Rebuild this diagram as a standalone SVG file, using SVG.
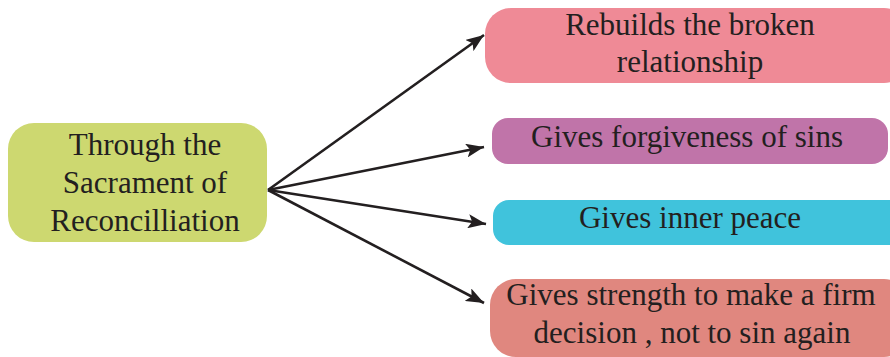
<svg xmlns="http://www.w3.org/2000/svg" width="890" height="357" viewBox="0 0 890 357">
  <style>
    .label { font-family: 'Liberation Serif', 'DejaVu Serif', serif; font-size: 31px; fill: #231f20; text-anchor: middle; }
    .edge { stroke: #231f20; stroke-width: 2.6; fill: none; marker-end: url(#arrow); }
  </style>
  <defs>
    <marker id="arrow" markerUnits="userSpaceOnUse" markerWidth="20" markerHeight="14" refX="18" refY="7" orient="auto">
      <path d="M0,0 L18,7 L0,14 L4,7 Z" fill="#231f20"/>
    </marker>
  </defs>

  <g id="source">
    <rect x="8" y="123" width="259" height="119" rx="26" fill="#cdd870"/>
    <text class="label" x="145" y="155">Through the</text>
    <text class="label" x="145" y="193">Sacrament of</text>
    <text class="label" x="145" y="231">Reconcilliation</text>
  </g>

  <g id="rebuilds">
    <rect x="485" y="8" width="425" height="75" rx="26" fill="#ef8a96"/>
    <text class="label" x="690" y="35">Rebuilds the broken</text>
    <text class="label" x="690" y="72">relationship</text>
  </g>

  <g id="forgiveness">
    <rect x="492" y="118" width="396" height="46" rx="16" fill="#c074a9"/>
    <text class="label" x="687" y="147">Gives forgiveness of sins</text>
  </g>

  <g id="peace">
    <rect x="493" y="200" width="415" height="45" rx="16" fill="#40c3dc"/>
    <text class="label" x="690" y="228">Gives inner peace</text>
  </g>

  <g id="strength">
    <rect x="490" y="279" width="420" height="78" rx="26" fill="#e0877f"/>
    <text class="label" x="691" y="305">Gives strength to make a firm</text>
    <text class="label" x="692" y="343">decision , not to sin again</text>
  </g>

  <g id="connectors">
    <line class="edge" x1="268" y1="190" x2="484" y2="35"/>
    <line class="edge" x1="268" y1="190" x2="484" y2="147"/>
    <line class="edge" x1="268" y1="190" x2="486" y2="224"/>
    <line class="edge" x1="268" y1="190" x2="484" y2="303"/>
  </g>
</svg>
